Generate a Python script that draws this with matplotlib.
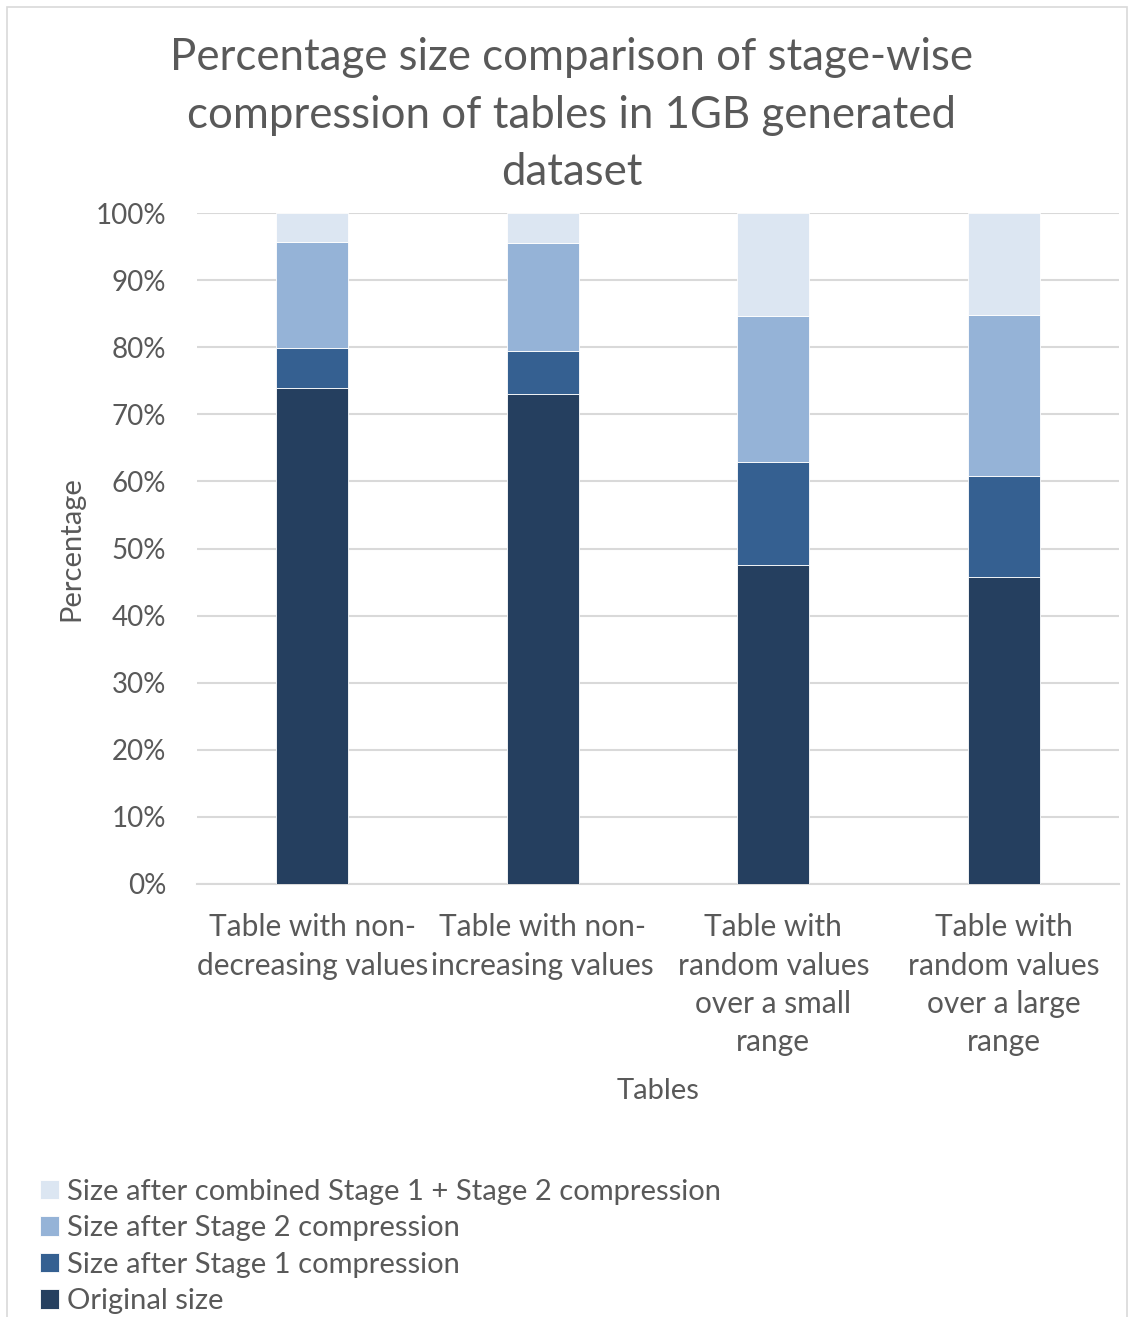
import matplotlib
matplotlib.use("Agg")
import matplotlib.pyplot as plt
from matplotlib.patches import Rectangle
from matplotlib.ticker import FuncFormatter, MultipleLocator

plt.rcParams['font.family'] = ['Lato', 'DejaVu Sans']

categories = [
    "Table with non-\ndecreasing values",
    "Table with non-\nincreasing values",
    "Table with\nrandom values\nover a small\nrange",
    "Table with\nrandom values\nover a large\nrange",
]
original_size = [73.9, 73.0, 47.6, 45.8]
stage1_size = [6.0, 6.4, 15.3, 15.0]
stage2_size = [15.8, 16.1, 21.7, 24.0]
combined_size = [4.3, 4.5, 15.4, 15.2]

series_names = [
    "Original size",
    "Size after Stage 1 compression",
    "Size after Stage 2 compression",
    "Size after combined Stage 1 + Stage 2 compression",
]
series_values = [original_size, stage1_size, stage2_size, combined_size]
series_colors = ["#253F5F", "#356091", "#95B3D7", "#DCE6F2"]

text_color = "#595959"
grid_color = "#D9D9D9"

fig = plt.figure(figsize=(11.30, 13.17), dpi=100)
ax = fig.add_axes([197 / 1130, 1 - 884 / 1317, 922 / 1130, 671 / 1317])

# outer chart-area frame
fig.patches.append(Rectangle((7 / 1130, -0.01), 1120 / 1130, 1 - 7 / 1317 + 0.01,
                             transform=fig.transFigure, fill=False,
                             edgecolor="#D9D9D9", linewidth=1.2))

x = list(range(len(categories)))
bottoms = [0.0] * len(categories)
handles = []
for name, vals, col in zip(series_names, series_values, series_colors):
    h = ax.bar(x, vals, width=0.3125, bottom=bottoms, color=col,
               edgecolor="white", linewidth=0.6, label=name, zorder=3)
    handles.append(h)
    bottoms = [b + v for b, v in zip(bottoms, vals)]

ax.set_xlim(-0.5, 3.5)
ax.set_ylim(0, 100)
ax.yaxis.set_major_locator(MultipleLocator(10))
ax.yaxis.set_major_formatter(FuncFormatter(lambda v, p: f"{int(round(v))}%"))
ax.set_xticks(x)
ax.set_xticklabels(categories, linespacing=1.45)
ax.grid(axis="y", color=grid_color, linewidth=1.5, zorder=0)
ax.set_axisbelow(True)
for s in ["top", "right", "left"]:
    ax.spines[s].set_visible(False)
ax.spines["bottom"].set_color(grid_color)
ax.spines["bottom"].set_linewidth(1.5)
ax.tick_params(axis="both", length=0, colors=text_color)
ax.tick_params(axis="x", labelsize=21.5, pad=21)
ax.tick_params(axis="y", labelsize=20, pad=22)

ax.set_ylabel("Percentage", fontsize=21, color=text_color, labelpad=8)
ax.set_xlabel("Tables", fontsize=21, color=text_color, labelpad=16)

fig.text(0.506, 1 - 115 / 1317,
         "Percentage size comparison of stage-wise\ncompression of tables in 1GB generated\ndataset",
         ha="center", va="center", fontsize=31.5, color=text_color, linespacing=1.5)

leg = fig.legend(handles[::-1], series_names[::-1], loc="upper left",
                 bbox_to_anchor=(28 / 1130, 1 - 1167 / 1317), frameon=False,
                 fontsize=21, handlelength=0.65, handleheight=0.65,
                 handletextpad=0.3, labelspacing=0.36, borderaxespad=0)
for t in leg.get_texts():
    t.set_color(text_color)

fig.savefig("out.png", dpi=100)
